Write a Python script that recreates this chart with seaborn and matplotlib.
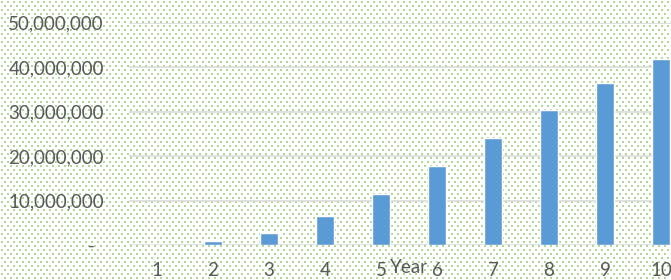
import numpy as np
import pandas as pd
import matplotlib
matplotlib.use("Agg")
import matplotlib.pyplot as plt
from matplotlib.ticker import FuncFormatter, MultipleLocator
import seaborn as sns

years = ["1", "2", "3", "4", "5", "6", "7", "8", "9", "10"]
values = [0, 800000, 2770000, 6500000, 11500000, 17800000, 24000000, 30300000, 36500000, 41900000]
x_title = "Year"

sns.set_theme(style="white")
plt.rcParams["font.family"] = ["Lato", "DejaVu Sans"]

W, H, DPI = 671, 280, 100
fig = plt.figure(figsize=(W / DPI, H / DPI), dpi=DPI)
fig.patch.set_facecolor("white")

# dotted background pattern
bg = np.full((H, W, 3), 255, dtype=np.uint8)
green = np.array([176, 214, 152], dtype=np.uint8)
for yy in range(1, H - 1, 4):
    off = 0 if (yy // 4) % 2 == 0 else 3
    for xx in range(1 + off, W - 1, 6):
        bg[yy:yy + 2, xx:xx + 2] = green
bgax = fig.add_axes([0, 0, 1, 1], zorder=-5)
bgax.imshow(bg, aspect="auto", interpolation="nearest", extent=(0, W, H, 0))
bgax.set_axis_off()

ax = fig.add_axes([129 / W, 35 / H, 560 / W, 222.3 / H], zorder=1)
ax.set_facecolor("none")
ax.patch.set_alpha(0)

df = pd.DataFrame({"Year": years, "Value": values})
sns.barplot(data=df, x="Year", y="Value", order=years, color="#5B9BD5",
            saturation=1, width=0.31, ax=ax, zorder=3)

ax.set_ylim(0, 50000000)
ax.set_xlim(-0.5, len(years) - 0.5)
ax.yaxis.set_major_locator(MultipleLocator(10000000))
ax.yaxis.set_major_formatter(FuncFormatter(lambda v, p: "-  " if v == 0 else f"{int(v):,}"))
ax.grid(axis="y", color="#D9D9D9", linewidth=1.1, zorder=1)
ax.set_axisbelow(True)
for s in ax.spines.values():
    s.set_visible(False)

ax.tick_params(axis="y", length=0, pad=18, labelsize=13.5, labelcolor="#595959")
ax.tick_params(axis="x", length=0, pad=12, labelsize=13.5, labelcolor="#595959")
ax.set_ylabel("")
ax.set_xlabel(x_title, fontsize=13.5, color="#595959")
ax.xaxis.set_label_coords(0.5, -0.103)
ax.xaxis.label.set_va("center")

fig.savefig("out.png", dpi=DPI)
